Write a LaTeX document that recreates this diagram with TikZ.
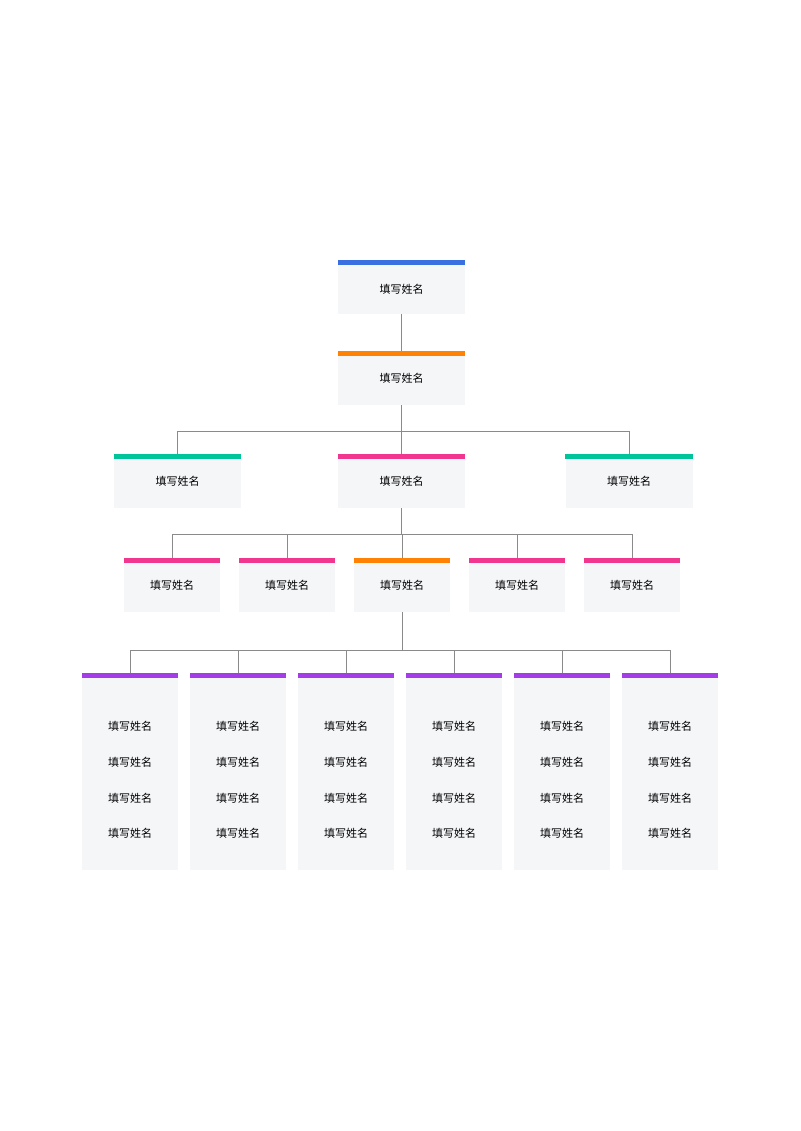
\documentclass[tikz,border=0pt]{standalone}
\usepackage{fontspec}
\newfontfamily\cjk{Noto Sans CJK SC}
\definecolor{cardbg}{HTML}{F5F6F8}
\definecolor{cblue}{HTML}{3A6FE2}
\definecolor{corange}{HTML}{FF8205}
\definecolor{cgreen}{HTML}{00C49A}
\definecolor{cpink}{HTML}{F0368E}
\definecolor{cpurple}{HTML}{A23DE8}
\definecolor{linkgray}{HTML}{8A8A8A}
\newcommand{\cardbar}[2]{\fill[#2] (#1.north west) rectangle ([yshift=-5pt]#1.north east);}
\begin{document}
\begin{tikzpicture}
	[x=1pt,y=-1pt,
	cardbox/.style={rectangle,fill=cardbg,inner sep=0pt,font=\cjk\fontsize{11}{13}\selectfont},
	wide/.style={cardbox,minimum width=127pt,minimum height=54pt},
	small/.style={cardbox,minimum width=96pt,minimum height=54pt},
	tall/.style={cardbox,minimum width=96pt,minimum height=197pt},
	link/.style={draw=linkgray,line width=0.6pt}]
	\useasboundingbox (0,0) rectangle (800,1131);
	% levels 1-3
	\node[wide,text depth=0pt,anchor=north] (top) at (401.5,260) {\raisebox{-3pt}{填写姓名}};
	\node[wide,anchor=north] (vice) at (401.5,351) {\raisebox{-3pt}{填写姓名}};
	\node[wide,anchor=north] (left) at (177.5,454) {\raisebox{-3pt}{填写姓名}};
	\node[wide,anchor=north] (mid) at (401.5,454) {\raisebox{-3pt}{填写姓名}};
	\node[wide,anchor=north] (right) at (629,454) {\raisebox{-3pt}{填写姓名}};
	% level 4
	\foreach \i/\x in {1/172,2/287,3/402,4/517,5/632}
		\node[small,anchor=north] (d\i) at (\x,558) {\raisebox{-3pt}{填写姓名}};
	% level 5
	\foreach \i/\x in {1/130,2/238,3/346,4/454,5/562,6/670}
	{
		\node[tall,anchor=north] (t\i) at (\x,673) {};
		\foreach \y in {726,762,798,833}
			\node[font=\cjk\fontsize{11}{13}\selectfont] at (\x,\y) {填写姓名};
		\cardbar{t\i}{cpurple}
	}
	\cardbar{top}{cblue}
	\cardbar{vice}{corange}
	\cardbar{left}{cgreen}
	\cardbar{mid}{cpink}
	\cardbar{right}{cgreen}
	\foreach \i in {1,2,4,5} {\cardbar{d\i}{cpink}}
	\cardbar{d3}{corange}
	% connectors
	\draw[link] (top.south) -- (vice.north);
	\draw[link] (vice.south) -- ++(0,26) coordinate (h1);
	\draw[link] (left.north) |- (h1) -| (right.north);
	\draw[link] (h1) -- (mid.north);
	\draw[link] (mid.south) -- ++(0,26) coordinate (h2);
	\draw[link] (d1.north) |- (h2) -| (d5.north);
	\foreach \i in {2,3,4} {\draw[link] (d\i.north) -- (d\i.north |- h2);}
	\draw[link] (d3.south) -- ++(0,38) coordinate (h3);
	\draw[link] (t1.north) |- (h3) -| (t6.north);
	\foreach \i in {2,...,5} {\draw[link] (t\i.north) -- (t\i.north |- h3);}
\end{tikzpicture}
\end{document}
